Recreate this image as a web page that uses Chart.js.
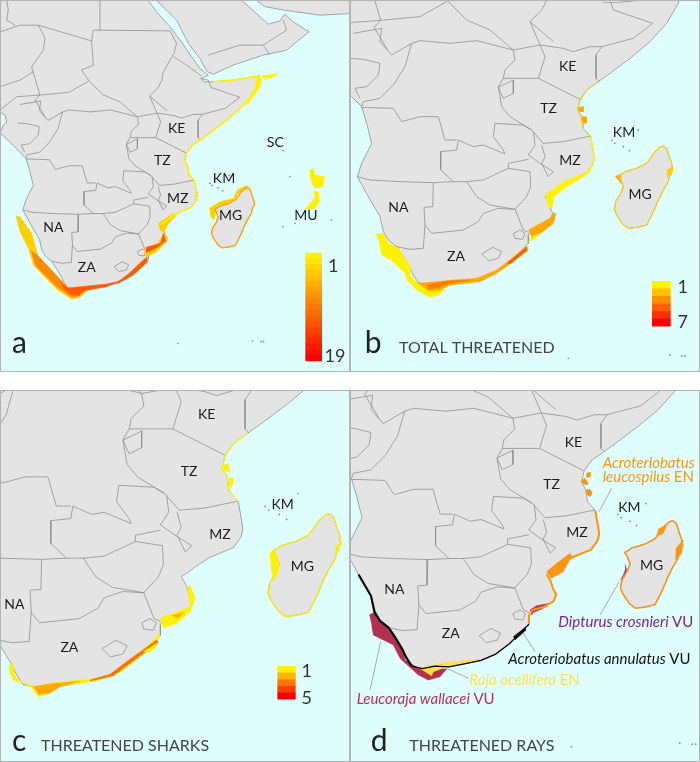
<!DOCTYPE html>
<html>
<head>
<meta charset="utf-8">
<style>
  html, body { margin: 0; padding: 0; background: #fff; }
  #wrap { position: relative; width: 700px; height: 762px; overflow: hidden; }
  canvas { position: absolute; }
</style>
<script src="https://cdn.jsdelivr.net/npm/chart.js@4"></script>
</head>
<body>
<div id="wrap">
  <canvas id="mapA" width="350" height="372" style="left:0;top:0"></canvas>
  <canvas id="mapB" width="350" height="372" style="left:350px;top:0"></canvas>
  <canvas id="mapC" width="350" height="372" style="left:0;top:390px"></canvas>
  <canvas id="mapD" width="350" height="372" style="left:350px;top:390px"></canvas>
</div>
<script>
// Coast stretches, in one shared map grid (the grid of panel b)
const redSea = [[534,-326],[568,-279],[623,-218],[670,-156],[711,-95],[745,-48],[779,-20]];
const adenCoast = [[752,-7],[762,7],[800,7],[881,0],[976,-16],[987,-20],[987,0]];
const somaliCoast = [[985,10],[950,70],[900,125],[840,175],[780,220],[745,245]];
const tanzaniaCoast = [[710,270],[690,300],[683,330],[695,350],[700,385],[722,410]];
const mozCoast = [[730,455],[733,475],[728,495],[710,520],[680,532],[650,545],[620,565],[600,580],[585,590]];
const natalCoast = [[597,610],[603,630],[612,645],[605,665],[580,680],[545,690]];
const eastCapeCoast = [[535,705],[535,730],[510,755],[480,785],[440,815]];
const southCoast = [[400,832],[360,840],[310,850],[270,848],[235,855],[205,848]];
const westCoast = [[190,825],[178,800],[160,770],[140,740],[115,720],[100,695],[90,650],[55,590]];
const gulfCoast = [[22,530],[35,490],[65,430],[50,370],[35,320],[5,290],[-3,280],[-50,235],[-71,215],[-57,184],[-44,171],[-50,144],[-71,130]];

const africa = [[-90,-340],[534,-340],...redSea,...adenCoast,...somaliCoast,...tanzaniaCoast,...mozCoast,...natalCoast,...eastCapeCoast,...southCoast,...westCoast,...gulfCoast,[-90,130],[-90,-340]];
const arabia = [[568,-340],[568,-326],[650,-245],[698,-150],[745,-88],[775,-34],[800,-24],[881,-61],[1004,-102],[1099,-122],[1140,-156],[1191,-197],[1126,-238],[1092,-269],[1072,-242],[1024,-228],[976,-272],[915,-326],[915,-340],[568,-340]];
const iran = [[976,-340],[976,-326],[1010,-300],[1085,-286],[1235,-265],[1370,-272],[1370,-340],[976,-340]];
const madagascar = [[940,438],[950,445],[958,470],[965,490],[968,510],[960,520],[955,545],[940,570],[925,600],[915,625],[903,650],[890,675],[860,682],[835,685],[818,672],[800,645],[793,628],[797,605],[812,580],[820,560],[812,540],[805,528],[825,515],[860,505],[890,490],[905,470],[915,455],[930,442],[940,438]];
const islets = [[865,390],[795,430],[820,440],[838,452],[786,421],[655,1075],[960,1065],[1005,1068],[1085,288],[1112,394],[1085,598],[1133,585],[1282,571],[995,1068]];

// Stretches of coast that carry a thin range
const coastHornToMoz = [...adenCoast.slice(2), ...somaliCoast, ...tanzaniaCoast, [730,455], ...mozCoast];
const coastMozNorth = [[722,410], ...mozCoast.slice(0, 6)];
const coastKenyaTz = [[745,245], ...tanzaniaCoast];
const coastNatal = [[585,590], ...natalCoast, ...eastCapeCoast.slice(0, 2)];
const coastRaysSouth = [...eastCapeCoast.slice(1), ...southCoast];
const coastRaysWest = [[205,848], ...westCoast];

// Country borders, same grid
const borderLines = [
  [[-71,-197],[11,-224],[86,-224],[303,-160]],
  [[303,-160],[310,-204],[623,-201]],
  [[337,-204],[337,-326]],
  [[-44,-326],[-37,-286],[-44,-245],[-10,-224]],
  [[86,-224],[113,-170],[106,-122],[58,-54],[72,-7],[92,61],[72,82],[113,150]],
  [[-71,27],[11,0],[65,-34]],
  [[-71,122],[-3,68],[92,61],[210,50],[290,5]],
  [[303,-160],[310,-61],[262,-41],[290,0],[350,60],[420,90],[490,150]],
  [[623,-201],[650,-150],[639,-109],[596,-34],[590,0],[575,30],[540,65],[570,135]],
  [[639,-95],[691,-61],[752,-16]],
  [[745,-7],[779,0],[785,15],[790,30],[908,70],[850,115],[755,140],[738,165],[738,235],[748,245]],
  [[540,65],[610,125]],
  [[779,-102],[908,-143],[1004,-143],[1031,-102]],
  [[1004,-143],[1099,-204],[1085,-245]],
  [[570,135],[640,145],[670,155],[720,140],[755,140]],
  [[570,135],[585,170],[565,235],[690,298]],
  [[490,150],[570,135]],
  [[490,150],[495,180],[465,210],[460,235],[565,235]],
  [[10,100],[95,85],[90,125],[125,165],[185,130],[210,122],[300,130],[380,122],[490,150]],
  [[185,130],[165,200],[130,255],[90,295],[40,305],[35,320]],
  [[0,175],[40,178],[90,190],[85,225],[50,260],[15,265],[30,295]],
  [[460,235],[445,262],[455,320],[480,350],[545,390],[580,430],[640,425],[722,408]],
  [[445,262],[490,240],[490,280],[460,295],[445,262]],
  [[545,390],[520,375],[435,370],[430,410],[460,450],[465,462],[400,435],[370,440],[325,420],[320,450],[272,455],[272,510],[310,545]],
  [[35,322],[130,325],[155,365],[210,350],[265,350],[285,420],[320,420]],
  [[22,530],[60,540],[150,545],[250,548],[310,545],[350,545],[400,540],[475,505],[475,490],[535,478]],
  [[550,395],[555,435],[535,465],[570,490],[610,515],[595,530],[575,490],[585,470],[575,435]],
  [[250,548],[248,620],[222,622],[225,675],[220,745],[180,748],[140,740]],
  [[350,545],[380,590],[420,615],[495,628]],
  [[225,675],[245,700],[340,690],[385,665],[400,640],[445,625],[495,628]],
  [[475,505],[540,515],[542,560],[530,590],[495,628],[520,690],[535,697]],
  [[490,700],[510,690],[525,700],[518,718],[495,715],[490,700]],
  [[395,762],[428,742],[455,755],[445,775],[415,782],[395,762]]
];

// Panel a ranges, read in the panel's own grid
const aHorn = [[785,228],[835,220],[815,233],[790,236]];
const aSomali = [[770,230],[785,235],[780,262],[745,310],[735,315],[765,265]];
const aMoz = [[475,670],[520,640],[530,645],[505,672],[492,695],[480,692]];
const aNatalOuter = [[495,695],[502,722],[470,755],[438,772],[432,750],[470,732]];
const aNatalInner = [[438,742],[482,730],[490,700],[497,722],[470,743],[438,758]];
const aSouthEast = [[350,848],[385,822],[430,780],[440,772],[443,785],[400,825],[350,852]];
const aWestOuter = [[47,648],[60,650],[95,700],[115,770],[175,835],[205,868],[260,872],[240,892],[215,898],[170,868],[100,795],[85,745],[60,695]];
const aWestMid = [[92,750],[112,765],[178,835],[205,865],[255,868],[238,888],[215,892],[170,860],[105,795]];
const aSouthDark = [[180,850],[205,864],[320,852],[360,843],[320,860],[255,872],[235,885],[205,880]];
const aMgNorth = [[628,625],[660,605],[700,595],[712,570],[740,556],[745,565],[715,580],[700,605],[650,618],[642,660],[632,650]];
const aMuMain = [[928,510],[940,505],[945,525],[973,530],[970,560],[945,565],[935,550],[930,525]];
const aMuStrip = [[940,572],[955,575],[958,605],[945,625],[915,628],[930,610],[945,595]];

// Panel b ranges
const bWest = [[78,702],[100,700],[115,730],[145,745],[180,800],[180,830],[205,850],[285,870],[265,885],[240,892],[200,870],[170,840],[165,820],[130,785],[95,765],[88,730]];
const bSouth = [[205,850],[310,840],[380,835],[440,810],[490,772],[530,738],[535,750],[480,792],[440,820],[390,845],[300,855],[270,870],[235,872]];
const bSouthDark = [[230,855],[300,842],[360,840],[300,850],[265,862],[235,868]];
const bEastCape = [[470,790],[530,742],[528,752],[480,792]];
const bNatal = [[535,690],[600,655],[608,640],[618,640],[610,670],[570,702],[545,712]];
const bNatalYellow = [[540,712],[575,698],[555,715],[535,725]];
const bMoz = [[585,585],[640,545],[725,510],[700,530],[650,560],[612,590],[606,625],[595,620]];
const bTz = [[683,322],[700,320],[700,335],[688,335]];
const bTzMid = [[692,350],[708,350],[710,368],[696,372]];
const bMgNorth = [[795,530],[810,522],[812,550],[805,540]];
const bMgEast = [[950,510],[968,500],[965,525],[950,530]];

// Panel c ranges
const cCapeWest = [[27,840],[40,838],[42,865],[60,895],[40,885],[28,860]];
const cSouth = [[42,880],[100,905],[150,895],[240,885],[300,880],[360,855],[430,795],[480,745],[470,780],[440,800],[360,862],[290,888],[160,905],[150,925],[115,935],[95,908]];
const cSouthOrange = [[100,905],[150,897],[240,888],[180,905],[150,925],[115,928]];
const cEastRed = [[270,885],[330,868],[400,815],[470,765],[475,772],[410,820],[340,872],[270,888]];
const cNatal = [[480,700],[570,665],[563,605],[570,600],[585,640],[570,680],[530,715],[490,730]];
const cNatalOrange = [[515,692],[550,682],[535,698]];
const cEastBlob = [[430,800],[470,775],[465,790],[445,803]];
const cTz = [[668,240],[685,238],[690,260],[675,258]];
const cTzMid = [[685,278],[700,280],[698,298],[688,308]];
const cMgNorth = [[808,505],[825,495],[830,515],[835,560],[820,590],[812,540]];
const cMgEast = [[1005,490],[1022,470],[1018,495],[1005,515]];

// Panel d ranges
const dLeucospilusA = [[695,285],[705,280],[715,295],[710,300],[697,295]];
const dLeucospilusB = [[708,265],[722,262],[720,275],[710,278]];
const dLeucospilusC = [[708,315],[720,312],[727,325],[720,335],[710,328]];
const dLeucospilusCoast = [[665,512],[640,560],[603,580],[590,560],[620,535],[660,505]];
const dMgEast = [[978,490],[1000,465],[995,505],[975,525]];
const dMgNorth = [[925,432],[950,420],[940,445],[918,455]];
const dWallacei = [[58,690],[75,680],[90,705],[125,745],[160,795],[165,825],[205,850],[290,852],[270,875],[235,885],[205,870],[150,820],[130,780],[70,750],[65,720]];
const dWallaceiNatal = [[540,675],[560,662],[600,655],[575,672],[550,682],[545,690]];
const dRaja = [[205,848],[300,830],[390,822],[380,828],[290,845],[250,860],[245,872],[225,860]];
const dAnnulatusBlob = [[490,755],[525,728],[528,735],[495,765]];
const dDipturus = [[825,538],[830,555],[822,578],[812,585],[820,570],[826,555]];

// Leader lines in panel d
const leaderLeucospilus = [[747,380],[785,310]];
const leaderWallacei = [[60,915],[92,770]];
const leaderRaja = [[355,880],[290,850]];
const leaderAnnulatus = [[520,745],[555,800]];
const leaderDipturus = [[808,590],[750,690]];

// Labels: country code, x, y
const labelsA = [['KE',530,385],['TZ',487,482],['MZ',533,595],['KM',672,535],['MG',692,647],['NA',160,682],['ZA',260,803],['SC',826,427],['MU',918,645]];
const labelsB = [['KE',653,198],['TZ',596,326],['MZ',660,480],['KM',822,398],['MG',870,582],['NA',145,623],['ZA',318,768]];
const labelsC = [['KE',620,87],['TZ',567,258],['MZ',660,447],['KM',848,357],['MG',907,545],['NA',43,658],['ZA',208,787]];
const labelsD = [['KE',670,173],['TZ',605,297],['MZ',681,442],['KM',838,368],['MG',905,540],['NA',133,613],['ZA',302,745]];

const yellow = '#fff200', gold = '#ffd000', amber = '#ffa800', orange = '#ff8a00', deep = '#ff5a00';
const crimson = '#b5304f', purple = '#7a1fa2', rayOrange = '#ff9410', rajaYellow = '#ffe14d';

const panels = {
  mapA: {
    view: [-71, 1358, -327, 1192], grid: [0, 1050, 0, 1116], labels: labelsA,
    letter: ['a', 36, 1060], title: null,
    ramp: { x: 916, y: 758, w: 50, h: 324, steps: 19, lo: ['1', 1000, 815], hi: ['19', 1005, 1085] },
    zones: [[aHorn, yellow], [aSomali, yellow], [aMoz, gold], [aNatalOuter, gold], [aNatalInner, deep], [aSouthEast, deep],
      [aWestOuter, gold], [aWestMid, orange], [aSouthDark, deep], [aMuMain, yellow], [aMuStrip, yellow], [aMgNorth, gold]],
    lines: [],
    coast: [[coastHornToMoz, yellow, 1.6], [madagascar, amber, 1.3]]
  },
  mapB: {
    view: [0, 1050, 0, 1116], grid: [0, 1050, 0, 1116], labels: labelsB,
    letter: ['b', 44, 1060], title: ['TOTAL THREATENED', 147, 1060],
    ramp: { x: 906, y: 843, w: 56, h: 135, steps: 6, lo: ['1', 998, 880], hi: ['7', 998, 985] },
    zones: [[bWest, yellow], [bSouth, amber], [bSouthDark, '#ff7a00'], [bEastCape, deep], [bNatal, amber], [bNatalYellow, yellow],
      [bMoz, yellow], [bTz, amber], [bTzMid, amber], [bMgNorth, amber], [bMgEast, gold]],
    lines: [],
    coast: [[madagascar, gold, 1.1], [coastMozNorth, yellow, 1.5], [coastKenyaTz, gold, 1]]
  },
  mapC: {
    view: [150, 990, 141.6, 1034], grid: [0, 1050, 15, 1131], labels: labelsC,
    letter: ['c', 36, 1098], title: ['THREATENED SHARKS', 123, 1098],
    ramp: { x: 832, y: 843, w: 55, h: 99, steps: 5, lo: ['1', 920, 875], hi: ['5', 920, 958] },
    zones: [[cCapeWest, yellow], [cSouth, yellow], [cSouthOrange, amber], [cEastRed, '#ff7000'], [cNatal, yellow], [cNatalOrange, amber], [cEastBlob, yellow],
      [cTz, yellow], [cTzMid, yellow], [cMgNorth, yellow], [cMgEast, yellow]],
    lines: [],
    coast: [[madagascar, '#ffe800', 1.3], [coastKenyaTz, yellow, 1.2]]
  },
  mapD: {
    view: [31, 1017, 70.4, 1118], grid: [0, 1050, 15, 1131], labels: labelsD,
    letter: ['d', 62, 1098], title: ['THREATENED RAYS', 178, 1098],
    zones: [[dLeucospilusA, rayOrange], [dLeucospilusB, rayOrange], [dLeucospilusC, rayOrange], [dLeucospilusCoast, rayOrange],
      [dMgEast, rayOrange], [dMgNorth, rayOrange], [dWallacei, crimson], [dWallaceiNatal, crimson], [dRaja, rajaYellow], [dAnnulatusBlob, '#000'], [dDipturus, purple]],
    lines: [[leaderLeucospilus, '#8a8a8a', 0.7], [leaderWallacei, '#8a8a8a', 0.7], [leaderRaja, '#8a8a8a', 0.7], [leaderAnnulatus, '#8a8a8a', 0.7], [leaderDipturus, '#8a8a8a', 0.7]],
    coast: [[madagascar, rayOrange, 1.5], [coastMozNorth, rayOrange, 2], [coastNatal, rayOrange, 2], [coastRaysWest, '#000', 2.2], [coastRaysSouth, '#000', 1.3]],
    species: [
      [[['Acroteriobatus', true]], 758, 248, rayOrange],
      [[['leucospilus ', true], ['EN', false]], 758, 290, rayOrange],
      [[['Dipturus crosnieri ', true], ['VU', false]], 625, 727, purple],
      [[['Acroteriobatus annulatus ', true], ['VU', false]], 475, 838, '#111'],
      [[['Raja ocellifera ', true], ['EN', false]], 358, 900, rajaYellow],
      [[['Leucoraja wallacei ', true], ['VU', false]], 20, 958, crimson]
    ]
  }
};

const toXY = pts => pts.map(([x, y]) => ({ x, y }));

function rampColor(i, steps) {
  const t = steps > 1 ? i / (steps - 1) : 0;
  return `rgb(255,${Math.round(242 * (1 - t))},0)`;
}

// Text, colour ramp and frame are drawn after the map, on the panel grid
const overlay = {
  id: 'overlay',
  afterDatasetsDraw(chart, args, opts) {
    const p = opts.panel, ctx = chart.ctx;
    const px = v => chart.scales.gx.getPixelForValue(v);
    const py = v => chart.scales.gy.getPixelForValue(v);
    ctx.save();

    ctx.fillStyle = '#1c1c1c';
    ctx.textAlign = 'center';
    ctx.textBaseline = 'middle';
    ctx.font = '14px Lato';
    p.labels.forEach(([t, x, y]) => ctx.fillText(t, px(x), py(y)));
    ctx.textBaseline = 'alphabetic';
    ctx.textAlign = 'left';

    if (p.ramp) {
      const r = p.ramp, bandH = (py(r.y + r.h) - py(r.y)) / r.steps;
      for (let i = 0; i < r.steps; i++) {
        ctx.fillStyle = rampColor(i, r.steps);
        ctx.fillRect(px(r.x), py(r.y) + i * bandH, px(r.x + r.w) - px(r.x), bandH + 0.5);
      }
      ctx.fillStyle = '#333';
      ctx.textAlign = 'center';
      ctx.font = '18px Lato';
      [r.lo, r.hi].forEach(([t, x, y]) => ctx.fillText(t, px(x), py(y)));
      ctx.textAlign = 'left';
    }

    ctx.fillStyle = '#222';
    ctx.font = '30px Lato';
    ctx.fillText(p.letter[0], px(p.letter[1]), py(p.letter[2]));

    if (p.title) {
      ctx.fillStyle = '#444';
      ctx.font = '16px Lato';
      ctx.fillText(p.title[0], px(p.title[1]), py(p.title[2]));
    }

    (p.species || []).forEach(([parts, x, y, color]) => {
      let cx = px(x);
      ctx.fillStyle = color;
      parts.forEach(([t, italic]) => {
        ctx.font = (italic ? 'italic ' : '') + '15px Lato';
        ctx.fillText(t, cx, py(y));
        cx += ctx.measureText(t).width;
      });
    });

    ctx.strokeStyle = '#b4b4b4';
    ctx.lineWidth = 1;
    ctx.strokeRect(0.5, 0.5, chart.width - 1, chart.height - 1);
    ctx.restore();
  }
};

function polygon(points, fill, line, xAxisID, yAxisID) {
  return { data: toXY(points), showLine: true, fill: 'shape', backgroundColor: fill, borderColor: line || fill,
    borderWidth: line ? 0.8 : 0.5, pointRadius: 0, tension: 0, xAxisID, yAxisID };
}

function polyline(points, color, width, xAxisID, yAxisID) {
  return { data: toXY(points), showLine: true, fill: false, borderColor: color, borderWidth: width, pointRadius: 0, tension: 0, xAxisID, yAxisID };
}

function buildDatasets(p) {
  const list = [];
  [africa, arabia, iran, madagascar].forEach(shape => list.push(polygon(shape, '#e4e4e4', '#8f8f8f', 'mx', 'my')));
  borderLines.forEach(b => list.push(polyline(b, '#8f8f8f', 0.8, 'mx', 'my')));
  list.push({ data: toXY(islets), showLine: false, pointRadius: 0.9, pointBackgroundColor: '#8f8f8f', pointBorderWidth: 0, xAxisID: 'mx', yAxisID: 'my' });
  p.zones.forEach(([pts, color]) => list.push(polygon(pts, color, null, 'gx', 'gy')));
  p.coast.forEach(([pts, color, w]) => list.push(polyline(pts, color, w, 'mx', 'my')));
  p.lines.forEach(([pts, color, w]) => list.push(polyline(pts, color, w, 'gx', 'gy')));
  // later in the list paints on top
  list.forEach((d, i) => { d.order = list.length - i; });
  return list;
}

Object.keys(panels).forEach(id => {
  const p = panels[id];
  const hidden = (min, max, reverse) => ({ type: 'linear', display: false, min, max, reverse: !!reverse });
  new Chart(document.getElementById(id), {
    type: 'scatter',
    data: { datasets: buildDatasets(p) },
    options: {
      responsive: false,
      animation: false,
      layout: { padding: 0, autoPadding: false },
      plugins: { legend: { display: false }, tooltip: { enabled: false }, overlay: { panel: p } },
      scales: {
        mx: hidden(p.view[0], p.view[1]),
        my: hidden(p.view[2], p.view[3], true),
        gx: hidden(p.grid[0], p.grid[1]),
        gy: hidden(p.grid[2], p.grid[3], true)
      }
    },
    plugins: [overlay,
      { id: 'ocean', beforeDraw(c) { c.ctx.save(); c.ctx.fillStyle = '#dfffff'; c.ctx.fillRect(0, 0, c.width, c.height); c.ctx.restore(); } }]
  });
});
</script>
</body>
</html>
